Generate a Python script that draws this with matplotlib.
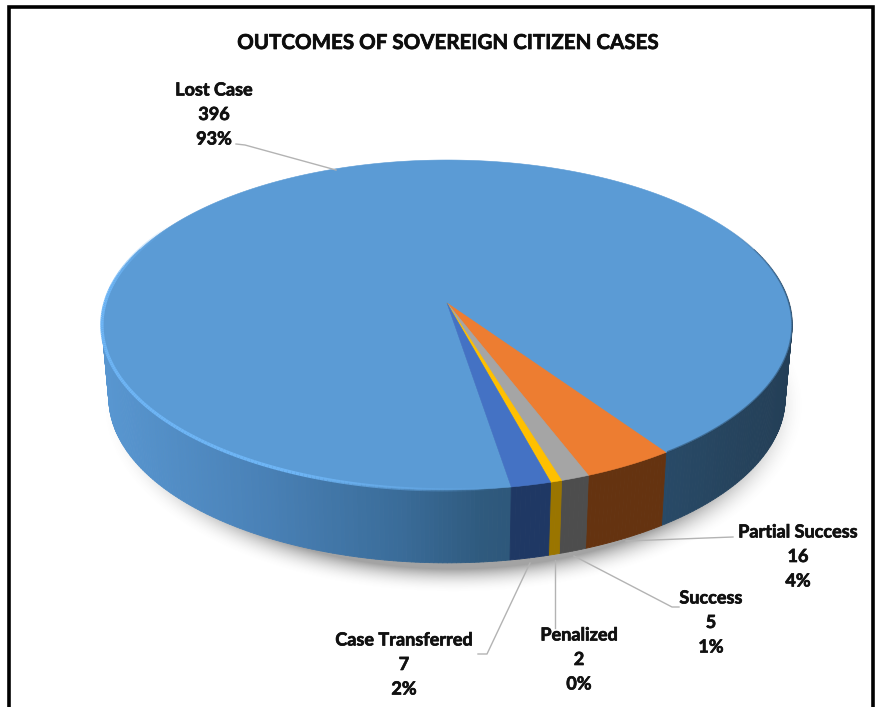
import numpy as np
import matplotlib
matplotlib.use("Agg")
import matplotlib.pyplot as plt
import matplotlib.patheffects as pe
from matplotlib.collections import PolyCollection, LineCollection
from matplotlib.colors import LinearSegmentedColormap
from matplotlib.patches import Polygon

plt.rcParams["font.family"] = ["Lato", "DejaVu Sans"]

# Chart data
categories = ["Lost Case", "Partial Success", "Success", "Penalized", "Case Transferred"]
values = [396, 16, 5, 2, 7]
top_colors = ["#5b9bd5", "#ed7d31", "#a5a5a5", "#ffc000", "#4472c4"]
wall_colors = [None, "#653310", "#4d4d4d", "#9a7500", "#1f3864"]
title = "OUTCOMES OF SOVEREIGN CITIZEN CASES"

# Pie geometry in pixels
cx, cy = 447, 303
rad_x, rad_y, persp = 342, 162, 0.133
depth, wall_scale = 73, 0.98
start_angle = 170.6

# Label centers and leader lines
label_pos = [(214, 90), (798, 532), (711, 598), (579, 635), (404, 640)]
leaders = [
    [(236, 144), (245, 145), (336, 170)],
    [(626, 541), (733, 537)],
    [(574, 556), (672, 607), (679, 607)],
    [(555, 560), (555, 628)],
    [(530, 563), (487, 654), (478, 654)],
]
line_gap = 24.5

def project(theta):
    # theta in degrees, clockwise from the far point of the disk
    t = np.radians(theta)
    u = np.sin(t)
    v = -np.cos(t)
    w = 1 - persp * v
    return cx + rad_x * u / w, cy + rad_y * v / w

def wall_point(x, y):
    return cx + (x - cx) * wall_scale, y + depth

fig = plt.figure(figsize=(8.78, 7.07), dpi=100)
ax = fig.add_axes([0, 0, 1, 1])

# Frame around the slide
ax.plot([9, 9, 873, 873], [707, 7, 7, 707], color="black", linewidth=2.6,
        solid_joinstyle="miter", zorder=1)

# Soft shadow under the pie
gx, gy = np.meshgrid(np.arange(60, 840), np.arange(250, 620))
r = np.sqrt(((gx - 453) / 352) ** 2 + ((gy - 405) / 188) ** 2)
shadow = np.zeros(gx.shape + (4,))
shadow[..., :3] = 0.4
shadow[..., 3] = np.clip((1.0 - r) / 0.13, 0, 1) ** 2 * 0.6
ax.imshow(shadow, extent=(60, 840, 620, 250), zorder=2, aspect="auto", interpolation="bilinear")
ax.set_xlim(0, 878)
ax.set_ylim(707, 0)
ax.axis("off")

# Slice angles come from the values
sweeps = np.array(values) / sum(values) * 360
starts = start_angle + np.concatenate([[0], np.cumsum(sweeps)[:-1]])

wall_cmap = LinearSegmentedColormap.from_list(
    "wall",
    [(0.0, "#5896d0"), (0.22, "#4a82b8"), (0.43, "#3a6c99"), (0.55, "#2f5a7e"), (1.0, "#243f57")],
)

# Front wall, only the part facing the viewer
for i in range(len(values)):
    a0, a1 = starts[i], starts[i] + sweeps[i]
    n = max(int(sweeps[i] * 1.5), 2)
    th = np.linspace(a0, a1, n + 1)
    quads = []
    colors = []
    for t0, t1 in zip(th[:-1], th[1:]):
        mid = (t0 + t1) / 2 % 360
        if mid < 70 or mid > 290:
            continue
        x0, y0 = project(t0)
        x1, y1 = project(t1)
        x2, y2 = wall_point(x1, y1)
        x3, y3 = wall_point(x0, y0)
        quads.append([(x0, y0), (x1, y1), (x2, y2), (x3, y3)])
        if wall_colors[i] is None:
            colors.append(wall_cmap(((x0 + x1) / 2 - 103) / 689))
        else:
            colors.append(wall_colors[i])
    ax.add_collection(PolyCollection(quads, facecolors=colors, edgecolors=colors, linewidths=0.6, zorder=3))

# Top face
for i in range(len(values)):
    th = np.linspace(starts[i], starts[i] + sweeps[i], max(int(sweeps[i] * 2), 4))
    px, py = project(th)
    verts = [(cx, cy)] + list(zip(px, py))
    ax.add_patch(Polygon(verts, closed=True, facecolor=top_colors[i], edgecolor=top_colors[i], linewidth=0.4, zorder=4))

# Rim highlight on the left, dark edge on the right
th = np.linspace(172, 300, 200)
px, py = project(th)
segs = [[(px[j], py[j]), (px[j + 1], py[j + 1])] for j in range(len(th) - 1)]
alpha = np.clip(np.minimum((th[:-1] - 172) / 30, (300 - th[:-1]) / 25), 0, 1)
rim_cols = [(0.43, 0.71, 0.96, a) for a in alpha]
ax.add_collection(LineCollection(segs, colors=rim_cols, linewidths=2.4, zorder=5))

th = np.linspace(60, 145, 120)
px, py = project(th)
segs = [[(px[j], py[j]), (px[j + 1], py[j + 1])] for j in range(len(th) - 1)]
alpha = np.clip((th[:-1] - 60) / 25, 0, 1) * 0.5
ax.add_collection(LineCollection(segs, colors=[(0.14, 0.25, 0.35, a) for a in alpha], linewidths=1.2, zorder=5))

# Leader lines
for pts in leaders:
    xs, ys = zip(*pts)
    ax.plot(xs, ys, color="#b3b3b3", linewidth=1.0, zorder=6)

# Labels
bold = [pe.withStroke(linewidth=0.5, foreground="#111111")]
total = sum(values)
for name, val, (lx, ly) in zip(categories, values, label_pos):
    lines = [name, str(val), f"{val / total:.0%}"]
    for k, s in enumerate(lines):
        ax.text(lx, ly + k * line_gap, s, ha="center", va="center",
                fontsize=13, fontweight="bold", color="#111111", zorder=7, path_effects=bold)

ax.text(447, 43, title, ha="center", va="center", fontsize=14.8, fontweight="bold",
        color="#0d0d0d", zorder=7, path_effects=bold)

fig.savefig("out.png", dpi=100)
